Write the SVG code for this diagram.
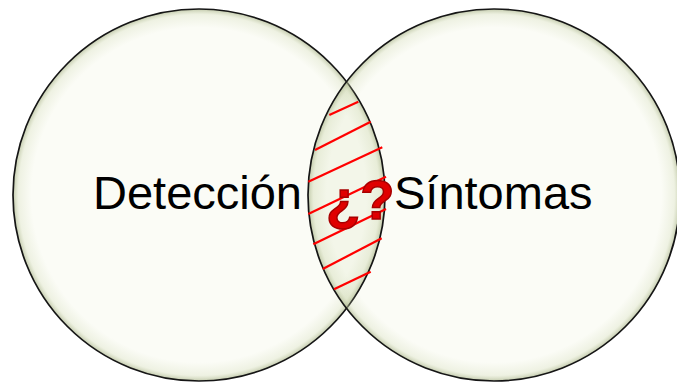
<svg xmlns="http://www.w3.org/2000/svg" width="677" height="382" viewBox="0 0 677 382">
  <style>
    .base { fill: #fbfcf6; stroke: none; }
    .rim { fill: url(#rimShade); stroke: #151515; stroke-width: 1.7; }
    .edge { fill: none; stroke: #151515; stroke-width: 1.7; }
    .label { font-family: "Liberation Sans", Arial, sans-serif; font-size: 47px; fill: #000; }
    .hatch { stroke: #ff0000; stroke-width: 2.2; stroke-linecap: butt; }
    .qm { font-family: "Liberation Sans", Arial, sans-serif; font-size: 56px; font-weight: bold; fill: #e00000; stroke: #a80000; stroke-width: 1.5; }
  </style>
  <defs>
    <radialGradient id="rimShade" cx="0.5" cy="0.5" r="0.5">
      <stop offset="0" stop-color="#c8d2a8" stop-opacity="0"/>
      <stop offset="0.9" stop-color="#c8d2a8" stop-opacity="0"/>
      <stop offset="0.97" stop-color="#c8d2a8" stop-opacity="0.25"/>
      <stop offset="1" stop-color="#a9b38c" stop-opacity="0.7"/>
    </radialGradient>
  </defs>

  <rect width="677" height="382" fill="#ffffff"/>

  <g id="node-deteccion">
    <circle class="base" cx="199" cy="195" r="186"/>
  </g>

  <g id="node-sintomas">
    <circle class="base" cx="494" cy="195" r="186"/>
  </g>

  <g id="node-overlap">
    <path d="M346.5,81.7 A186,186 0 0 1 346.5,308.3 A186,186 0 0 1 346.5,81.7 Z" fill="#f3f6e9"/>
  </g>

  <g id="rims">
    <circle class="rim" cx="199" cy="195" r="186"/>
    <circle class="rim" cx="494" cy="195" r="186"/>
  </g>

  <g id="hatching">
    <line class="hatch" x1="329.3" y1="115" x2="358.3" y2="101.7"/>
    <line class="hatch" x1="315" y1="150" x2="370.7" y2="121.7"/>
    <line class="hatch" x1="308.3" y1="181.7" x2="382.3" y2="147.3"/>
    <line class="hatch" x1="308.3" y1="214" x2="386" y2="176.7"/>
    <line class="hatch" x1="313.3" y1="244.3" x2="386" y2="209"/>
    <line class="hatch" x1="322.7" y1="269" x2="381.7" y2="238.3"/>
    <line class="hatch" x1="334" y1="289.3" x2="370.7" y2="271.7"/>
    <text class="qm" x="326" y="219">¿?</text>
  </g>

  <g id="labels">
    <text class="label" x="93" y="209">Detección</text>
    <text class="label" x="394" y="209">Síntomas</text>
  </g>

  <g id="connectors"></g>
</svg>
